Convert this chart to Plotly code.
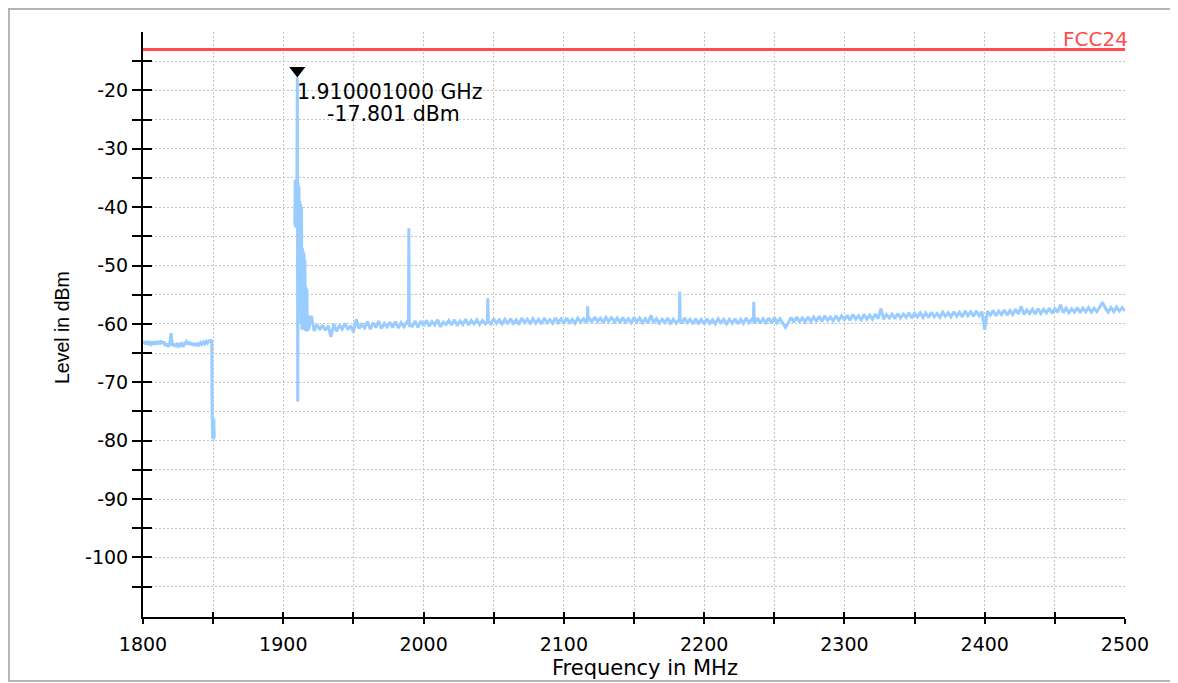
import plotly.graph_objects as go

# ---------------- data ----------------
# lower band (1800-1851 MHz)
low_freq = list(range(1800, 1849)) + [1849.0, 1849.3, 1849.6, 1849.9, 1850.2, 1850.5, 1850.8]
low_level = [
    -63.4, -63.0, -63.5, -63.1, -63.4, -63.0, -63.5, -63.2, -63.4, -63.0,
    -63.5, -63.1, -63.3, -62.9, -63.4, -63.0, -63.8, -63.4, -63.9, -63.5,
    -61.6, -63.8, -63.4, -63.9, -63.5, -63.8, -63.3, -63.9, -63.4, -63.7,
    -63.3, -63.0, -63.5, -63.1, -63.6, -63.2, -63.7, -63.3, -63.8, -63.4,
    -63.6, -63.2, -63.5, -63.1, -63.4, -63.0, -63.3, -62.9, -63.0,
    -62.7, -76.0, -79.6, -76.5, -79.8, -76.2, -79.5,
]

# marker (peak)
marker_freq = 1910.001
marker_level = -17.801

# carrier edge region (1908-1918 MHz)
peak_freq = [1908.2, 1908.5, 1908.8, 1909.1, 1909.4, 1909.7, marker_freq, 1910.3, 1910.6, 1910.9,
             1911.2, 1911.5, 1911.8, 1912.1, 1912.4, 1912.7, 1913.0, 1913.3, 1913.6, 1913.9,
             1914.2, 1914.5, 1914.8, 1915.1, 1915.4, 1915.7, 1916.0, 1916.4, 1916.8, 1917.2,
             1917.6]
peak_level = [-43.0, -35.3, -43.5, -35.5, -42.0, -36.0, marker_level, -73.3, -35.8, -50.0,
              -36.5, -55.0, -39.0, -58.0, -39.5, -60.0, -40.0, -61.0, -47.0, -60.5,
              -47.5, -61.0, -48.0, -60.8, -49.0, -61.2, -53.6, -61.0, -54.0, -61.3,
              -58.5]

# upper band sweep (1918-2500 MHz, 2 MHz points)
main_freq = list(range(1918, 2501, 2))
main_level = [
    -61.0, -58.6, -61.2, -60.1, -61.0, -60.2, -61.1, -60.3, -62.2, -60.0,
    -61.3, -60.2, -60.9, -59.9, -61.0, -60.3, -61.4, -59.2, -60.8, -60.1,
    -60.7, -59.6, -60.9, -59.8, -60.6, -59.5, -60.8, -59.9, -60.5, -59.7,
    -60.6, -59.6, -60.7, -59.8, -60.5, -59.7, -60.3, -60.4, -59.5, -60.6,
    -59.5, -60.3, -59.4, -60.4, -59.6, -60.2, -59.3, -60.5, -59.7, -60.1,
    -59.4, -60.2, -59.3, -60.3, -59.5, -60.1, -59.2, -60.2, -59.4, -60.0,
    -59.3, -60.1, -59.4, -60.0, -59.2, -60.0, -59.1, -59.9, -59.3, -60.0,
    -59.2, -60.0, -59.1, -59.9, -59.3, -60.1, -59.0, -59.8, -59.2, -59.9,
    -59.1, -59.9, -59.2, -60.0, -59.0, -59.8, -59.3, -59.9, -59.0, -59.8,
    -59.1, -59.9, -59.0, -59.8, -59.2, -59.9, -59.0, -59.7, -59.1, -59.8,
    -58.9, -59.7, -58.8, -59.6, -59.0, -59.8, -58.9, -59.6, -58.8, -59.7,
    -59.0, -59.8, -58.9, -59.7, -59.1, -59.8, -58.9, -59.7, -59.0, -59.8,
    -59.1, -59.9, -58.5, -59.8, -59.1, -59.9, -59.2, -59.8, -59.0, -59.9,
    -59.2, -59.9, -59.3, -59.9, -59.0, -59.8, -59.2, -60.0, -59.1, -59.9,
    -59.2, -60.0, -59.1, -59.9, -59.3, -60.0, -59.1, -59.8, -59.2, -60.0,
    -59.2, -59.9, -59.1, -60.0, -59.2, -59.9, -59.0, -59.8, -59.2, -59.9,
    -59.0, -59.9, -59.1, -59.8, -59.0, -59.9, -58.9, -59.8, -59.1, -59.9,
    -60.6, -59.8, -58.9, -59.7, -58.8, -59.6, -59.0, -59.7, -58.8, -59.6,
    -58.8, -59.5, -58.7, -59.6, -58.6, -59.4, -58.8, -59.5, -58.6, -59.4,
    -58.6, -59.3, -58.5, -59.4, -58.4, -59.2, -58.6, -59.3, -58.4, -59.2,
    -58.5, -59.2, -58.3, -59.1, -57.4, -59.2, -58.4, -59.0, -58.3, -59.1,
    -58.2, -59.0, -58.3, -58.9, -58.1, -59.0, -58.2, -58.8, -58.1, -58.9,
    -58.1, -58.9, -58.0, -58.8, -58.2, -58.9, -58.0, -58.7, -58.1, -58.8,
    -57.9, -58.7, -58.0, -58.8, -57.8, -58.6, -57.9, -58.7, -57.8, -58.6,
    -57.9, -61.0, -57.8, -58.5, -57.7, -58.6, -57.8, -58.4, -57.6, -58.5,
    -57.7, -58.4, -57.5, -58.3, -57.0, -58.4, -57.6, -58.2, -57.5, -58.3,
    -57.4, -58.2, -57.5, -58.1, -57.3, -58.2, -57.4, -58.0, -56.7, -58.1,
    -57.3, -58.1, -57.4, -58.0, -57.2, -58.1, -57.3, -57.9, -57.2, -58.0,
    -57.3, -57.9, -57.2, -56.3, -57.3, -58.0, -57.2, -57.9, -57.1, -57.8,
    -57.2, -57.8,
]

# narrow spurious spikes (shoulder, top, shoulder)
spike_freq = [1989.2, 1989.5, 1989.8,
              2045.5, 2045.8, 2046.1,
              2116.7, 2117.0, 2117.3,
              2182.3, 2182.6, 2182.9,
              2235.1, 2235.4, 2235.7]
spike_level = [-60.0, -43.6, -59.8,
               -59.6, -55.6, -59.5,
               -59.4, -57.0, -59.5,
               -59.6, -54.5, -59.4,
               -59.5, -56.2, -59.6]

# limit line
limit_name = "FCC24"
limit_freq = [1800, 2500]
limit_level = [-13, -13]

# axes
x_range = [1800, 2500]
y_range = [-110.2, -10]
x_major = [1800, 1900, 2000, 2100, 2200, 2300, 2400, 2500]
x_minor = [1850, 1950, 2050, 2150, 2250, 2350, 2450]
y_major = [-100, -90, -80, -70, -60, -50, -40, -30, -20]
y_minor = [-105, -95, -85, -75, -65, -55, -45, -35, -25, -15]

# ---------------- styles ----------------
TRACE_COLOR = "#99CCFF"
LIMIT_COLOR = "#FF4D4D"
GRID_COLOR = "#c4c4c4"
TICK_FONT = dict(family="DejaVu Sans", size=19, color="black")

upper = sorted(zip(main_freq + spike_freq, main_level + spike_level))
upper_freq = [p[0] for p in upper]
upper_level = [p[1] for p in upper]

freq = low_freq + [None] + peak_freq + upper_freq
level = low_level + [None] + peak_level + upper_level

fig = go.Figure()
fig.add_trace(go.Scatter(x=freq, y=level, mode="lines",
                         line=dict(color=TRACE_COLOR, width=3),
                         connectgaps=False, showlegend=False, hoverinfo="x+y"))
fig.add_trace(go.Scatter(x=limit_freq, y=limit_level, mode="lines",
                         line=dict(color=LIMIT_COLOR, width=3),
                         showlegend=False, name=limit_name))
fig.add_trace(go.Scatter(x=[marker_freq], y=[marker_level + 1.2], mode="markers",
                         marker=dict(symbol="triangle-down", size=14, color="black"),
                         showlegend=False, hoverinfo="skip"))
# dummy trace so that overlay axes (inner tick halves) get drawn
fig.add_trace(go.Scatter(x=[None], y=[None], xaxis="x2", yaxis="y2",
                         showlegend=False, hoverinfo="skip"))

grid = dict(showgrid=True, gridcolor=GRID_COLOR, gridwidth=1, griddash="2px,2px")

# page body has an 8px margin, so the figure is 8px smaller and shifted
fig.update_layout(
    width=1170, height=675,
    margin=dict(l=135, r=53, t=24, b=66),
    paper_bgcolor="white", plot_bgcolor="white",
    showlegend=False,
    xaxis=dict(range=x_range, tickvals=x_major, ticktext=[str(v) for v in x_major],
               ticks="outside", ticklen=5, tickwidth=2, tickcolor="black",
               showline=True, linecolor="black", linewidth=2, zeroline=False,
               tickfont=TICK_FONT, ticklabelstandoff=4,
               minor=dict(tickvals=x_minor, ticks="outside", ticklen=5, tickwidth=2,
                          tickcolor="black", **grid),
               **grid),
    yaxis=dict(range=y_range, tickvals=y_major, ticktext=[str(v) for v in y_major],
               ticks="outside", ticklen=9, tickwidth=2, tickcolor="black",
               showline=True, linecolor="black", linewidth=2, zeroline=False,
               tickfont=TICK_FONT,
               minor=dict(tickvals=y_minor, ticks="outside", ticklen=9, tickwidth=2,
                          tickcolor="black", **grid),
               **grid),
    xaxis2=dict(overlaying="x", anchor="y", side="bottom", range=x_range,
                tickvals=x_major, showticklabels=False, ticks="inside", ticklen=5,
                tickwidth=2, tickcolor="black", showgrid=False, zeroline=False,
                showline=False,
                minor=dict(tickvals=x_minor, ticks="inside", ticklen=5, tickwidth=2,
                           tickcolor="black", showgrid=False)),
    yaxis2=dict(overlaying="y", anchor="x", side="left", range=y_range,
                tickvals=y_major, showticklabels=False, ticks="inside", ticklen=9,
                tickwidth=2, tickcolor="black", showgrid=False, zeroline=False,
                showline=False,
                minor=dict(tickvals=y_minor, ticks="inside", ticklen=9, tickwidth=2,
                           tickcolor="black", showgrid=False)),
)

annotations = [
    dict(x=limit_freq[-1], y=limit_level[-1], xref="x", yref="y", text=limit_name,
         showarrow=False, xanchor="right", yanchor="bottom", xshift=5, yshift=-3,
         font=dict(family="DejaVu Sans", size=20, color=LIMIT_COLOR)),
    dict(x=marker_freq, y=marker_level - 2.5, xref="x", yref="y",
         text=f"{marker_freq / 1000:.9f} GHz", showarrow=False,
         xanchor="left", yanchor="middle", xshift=-2,
         font=dict(family="DejaVu Sans", size=20.5, color="black")),
    dict(x=marker_freq, y=marker_level - 6.3, xref="x", yref="y",
         text=f"{marker_level:.3f} dBm", showarrow=False,
         xanchor="center", yanchor="middle", xshift=96,
         font=dict(family="DejaVu Sans", size=20.5, color="black")),
    dict(x=0.5107, y=-0.087, xref="paper", yref="paper", text="Frequency in MHz",
         showarrow=False, xanchor="center", yanchor="middle",
         font=dict(family="DejaVu Sans", size=21, color="black")),
    dict(x=-0.0825, y=0.4957, xref="paper", yref="paper", text="Level in dBm",
         showarrow=False, xanchor="center", yanchor="middle", textangle=-90,
         font=dict(family="Liberation Sans", size=19.5, color="black")),
]
fig.update_layout(annotations=annotations)

# light grey frame around the whole picture
fig.add_shape(type="rect", xref="paper", yref="paper",
              x0=-0.1365, x1=1.0509, y0=-0.1094, y1=1.0393,
              line=dict(color="#b4b4b4", width=2), fillcolor="rgba(0,0,0,0)")

fig.write_html("out.html")
